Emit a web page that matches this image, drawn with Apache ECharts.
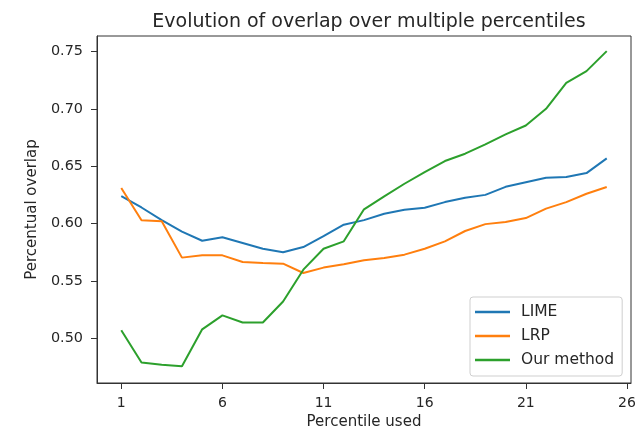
<!DOCTYPE html>
<html>
<head>
<meta charset="utf-8">
<script src="https://cdn.jsdelivr.net/npm/echarts@6/dist/echarts.min.js"></script>
<style>html,body{margin:0;padding:0;background:#fff}#c{width:638px;height:428px}</style>
</head>
<body>
<div id="c"></div>
<script>
const percentiles = [1,2,3,4,5,6,7,8,9,10,11,12,13,14,15,16,17,18,19,20,21,22,23,24,25];
const lime = [0.624,0.614,0.603,0.593,0.585,0.588,0.583,0.578,0.575,0.5795,0.589,0.599,0.603,0.6086,0.612,0.6138,0.6187,0.6225,0.625,0.632,0.636,0.640,0.6405,0.644,0.6568];
const lrp = [0.631,0.6028,0.602,0.5703,0.5723,0.5723,0.5665,0.5656,0.565,0.5569,0.5616,0.5645,0.568,0.570,0.5729,0.578,0.5845,0.5935,0.5995,0.6013,0.6048,0.613,0.6187,0.626,0.6318];
const ours = [0.507,0.4788,0.477,0.4756,0.5078,0.520,0.5137,0.5137,0.532,0.5598,0.578,0.5845,0.6124,0.6237,0.6347,0.6449,0.6545,0.6609,0.669,0.6777,0.6855,0.700,0.7227,0.7329,0.7503];
const xTicks = [1,6,11,16,21,26];
const yTicks = [0.50,0.55,0.60,0.65,0.70,0.75];
const seriesNames = ['LIME','LRP','Our method'];
const colors = ['#1f77b4','#ff7f0e','#2ca02c'];

const font = 'DejaVu Sans';
const txt = '#262626';
const chart = echarts.init(document.getElementById('c'));
const pairs = a => percentiles.map((p,i)=>[p,a[i]]);
const all = [lime, lrp, ours];
chart.setOption({
  animation:false,
  backgroundColor:'#fff',
  title:{text:'Evolution of overlap over multiple percentiles',left:364,textAlign:'center',top:8,
    textStyle:{fontFamily:font,fontSize:19,fontWeight:'normal',color:txt}},
  grid:{left:97,right:7,top:36,bottom:45,containLabel:false,outerBoundsMode:'none',show:true,borderColor:'#333',borderWidth:1,backgroundColor:'transparent'},
  legend:{orient:'vertical',left:470,top:297,padding:[7,8,8,5],itemGap:8,itemWidth:35,itemHeight:16,
    icon:'path://M0,0h35v2.4h-35z',
    borderColor:'#cfcfcf',borderWidth:1,borderRadius:3,backgroundColor:'rgba(255,255,255,0.85)',
    textStyle:{fontFamily:font,fontSize:15.5,color:txt,padding:[0,0,0,6]},data:seriesNames},
  xAxis:{type:'value',min:-0.2,max:26.2,name:'Percentile used',nameLocation:'middle',nameGap:27,
    nameTextStyle:{fontFamily:font,fontSize:15,color:txt},
    axisLine:{show:true,onZero:false,lineStyle:{color:'#333',width:1}},
    axisTick:{show:true,length:6,lineStyle:{color:'#333'},customValues:xTicks},
    axisLabel:{customValues:xTicks,margin:13,fontFamily:font,fontSize:14,color:txt},
    splitLine:{show:false}},
  yAxis:{type:'value',min:0.461,max:0.7635,name:'Percentual overlap',nameLocation:'middle',nameGap:57,
    nameTextStyle:{fontFamily:font,fontSize:15,color:txt},
    axisLine:{show:true,onZero:false,lineStyle:{color:'#333',width:1}},
    axisTick:{show:true,length:6,lineStyle:{color:'#333'},customValues:yTicks},
    axisLabel:{customValues:yTicks,margin:14,fontFamily:font,fontSize:14.4,color:txt,formatter:v=>v.toFixed(2)},
    splitLine:{show:false}},
  series: seriesNames.map((n,i)=>({name:n,type:'line',data:pairs(all[i]),showSymbol:false,symbol:'none',
    lineStyle:{color:colors[i],width:2},itemStyle:{color:colors[i]}}))
});
</script>
</body>
</html>
